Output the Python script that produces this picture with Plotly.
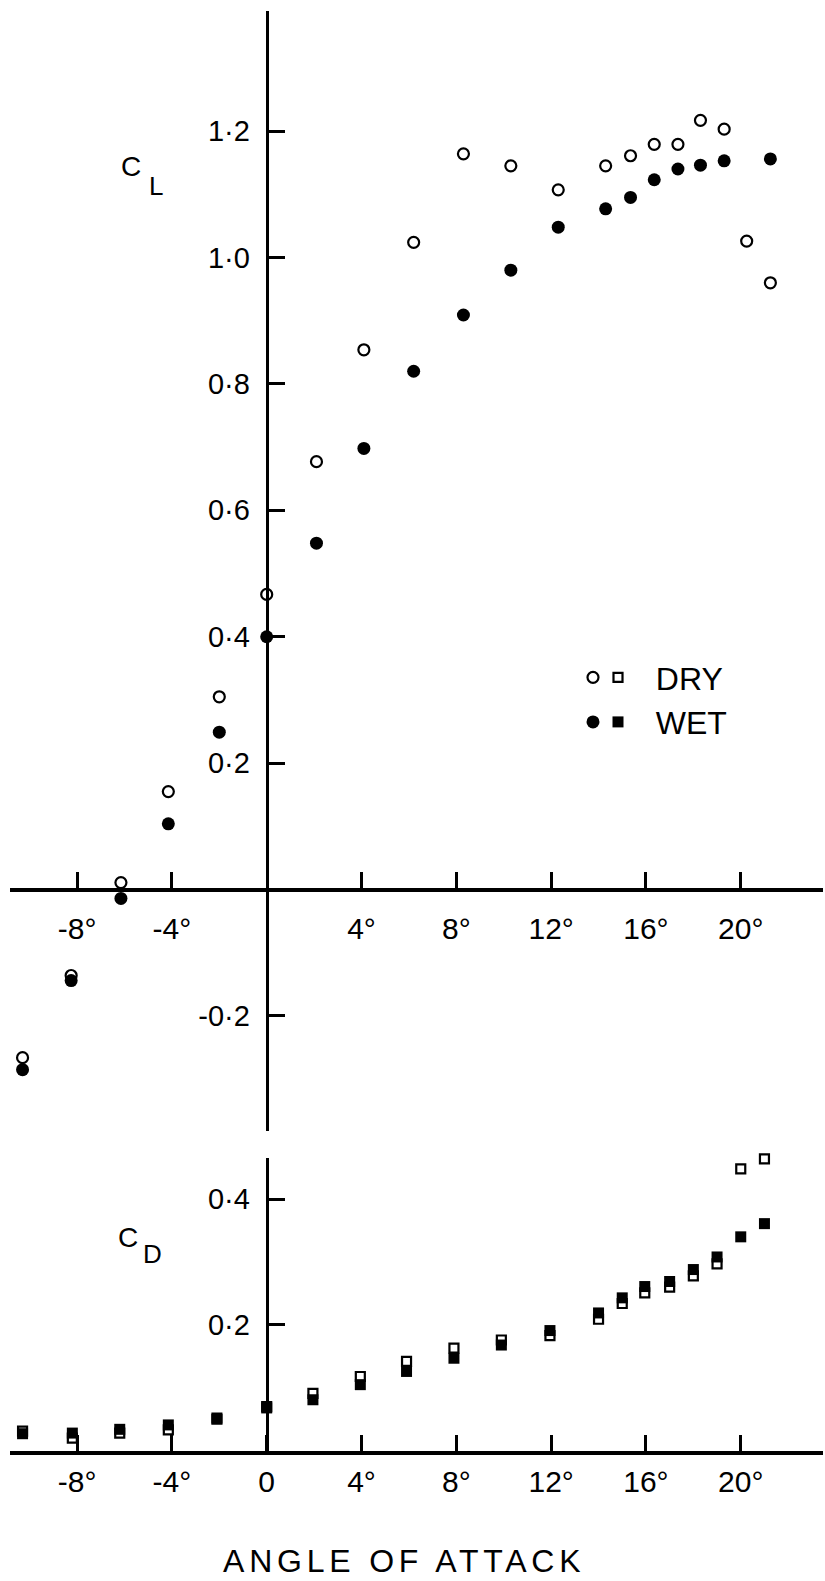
import plotly.graph_objects as go

# ---------------- data ----------------
angle_cl = [-10.3, -8.25, -6.15, -4.15, -2.0, 0.0, 2.1, 4.1, 6.2, 8.3, 10.3, 12.3,
            14.3, 15.35, 16.35, 17.35, 18.3, 19.3, 20.25, 21.25]
cl_dry = [-0.266, -0.136, 0.011, 0.155, 0.305, 0.467, 0.677, 0.854, 1.024, 1.164, 1.145, 1.107,
          1.145, 1.161, 1.179, 1.179, 1.217, 1.203, 1.026, 0.960]
cl_wet = [-0.285, -0.144, -0.014, 0.104, 0.249, 0.400, 0.548, 0.698, 0.820, 0.909, 0.980, 1.048,
          1.077, 1.095, 1.123, 1.140, 1.146, 1.153, None, 1.156]

angle_cd = [-10.3, -8.2, -6.2, -4.15, -2.1, 0.0, 1.95, 3.95, 5.9, 7.9, 9.9, 11.95,
            14.0, 15.0, 15.95, 17.0, 18.0, 19.0, 20.0, 21.0]
cd_dry = [0.031, 0.020, 0.028, 0.033, 0.050, 0.070, 0.091, 0.118, 0.142, 0.163, 0.176, 0.183,
          0.209, 0.234, 0.251, 0.260, 0.278, 0.297, 0.448, 0.464]
cd_wet = [0.027, 0.028, 0.034, 0.041, 0.052, 0.068, 0.081, 0.105, 0.126, 0.147, 0.168, 0.191,
          0.219, 0.243, 0.261, 0.269, 0.288, 0.308, 0.340, 0.361]

x_tickvals_top = [-8, -4, 4, 8, 12, 16, 20]
x_ticktext_top = ["-8°", "-4°", "4°", "8°", "12°", "16°", "20°"]
x_tickvals_bot = [-8, -4, 0, 4, 8, 12, 16, 20]
x_ticktext_bot = ["-8°", "-4°", "0", "4°", "8°", "12°", "16°", "20°"]
cl_tickvals = [-0.2, 0.2, 0.4, 0.6, 0.8, 1.0, 1.2]
cl_ticktext = ["-0·2", "0·2", "0·4", "0·6", "0·8", "1·0", "1·2"]
cd_tickvals = [0.2, 0.4]
cd_ticktext = ["0·2", "0·4"]

# ---------------- layout geometry ----------------
W, H = 825, 1581
ML, MR = 10, 2
PW = W - ML - MR
X_RANGE = [-10.83, 23.47]
CL_RANGE = [-0.382, 1.390]
CD_RANGE = [0.0, 0.466]
CD_BOTTOM_PX = 1450.7
CD_SCALE = 629.0                     # px per unit of C_D
CL_DOMAIN = [1 - 1131 / H, 1 - 11 / H]
CD_DOMAIN = [1 - CD_BOTTOM_PX / H, 1 - (CD_BOTTOM_PX - CD_RANGE[1] * CD_SCALE) / H]

def frac(v, rng, dom):
    return dom[0] + (v - rng[0]) / (rng[1] - rng[0]) * (dom[1] - dom[0])

def px_x(px):
    return (px - ML) / PW

def px_y(py):
    return 1 - py / H

yaxis_pos = frac(0, X_RANGE, [0, 1])
xaxis_top_pos = frac(0, CL_RANGE, CL_DOMAIN)

FONT = "Liberation Sans, Arial, sans-serif"

fig = go.Figure()

dry_circle = dict(symbol="circle", size=11, color="white", line=dict(color="black", width=2.2))
wet_circle = dict(symbol="circle", size=13, color="black", line=dict(width=0))
dry_square = dict(symbol="square", size=9, color="white", line=dict(color="black", width=2.2))
wet_square = dict(symbol="square", size=11, color="black", line=dict(width=0))

fig.add_trace(go.Scatter(x=angle_cl, y=cl_dry, mode="markers", marker=dry_circle, cliponaxis=False,
                         xaxis="x", yaxis="y", name=" ", legend="legend"))
fig.add_trace(go.Scatter(x=angle_cl, y=cl_wet, mode="markers", marker=wet_circle, cliponaxis=False,
                         xaxis="x", yaxis="y", name=" ", legend="legend"))
fig.add_trace(go.Scatter(x=angle_cd, y=cd_dry, mode="markers", marker=dry_square, cliponaxis=False,
                         xaxis="x2", yaxis="y2", name="\u00a0\u00a0DRY", legend="legend2"))
fig.add_trace(go.Scatter(x=angle_cd, y=cd_wet, mode="markers", marker=wet_square, cliponaxis=False,
                         xaxis="x2", yaxis="y2", name="\u00a0\u00a0WET", legend="legend2"))

common_axis = dict(showgrid=False, zeroline=False, showline=True, linecolor="black",
                   ticks="inside", tickcolor="black", tickwidth=2.5, ticklen=16,
                   fixedrange=True)

fig.update_layout(
    width=W, height=H,
    margin=dict(l=ML, r=MR, t=0, b=0),
    paper_bgcolor="white", plot_bgcolor="white",
    font=dict(family=FONT, color="black"),
    xaxis=dict(common_axis, domain=[0, 1], range=X_RANGE, anchor="free", position=xaxis_top_pos,
               linewidth=3.5, tickmode="array", tickvals=x_tickvals_top, ticktext=x_ticktext_top,
               tickfont=dict(size=30), ticklabelstandoff=12),
    yaxis=dict(common_axis, domain=CL_DOMAIN, range=CL_RANGE, anchor="free", position=yaxis_pos,
               linewidth=3, tickmode="array", tickvals=cl_tickvals, ticktext=cl_ticktext,
               tickfont=dict(size=29), ticklabelstandoff=10),
    xaxis2=dict(common_axis, domain=[0, 1], range=X_RANGE, anchor="y2", side="bottom",
                linewidth=3.5, tickmode="array", tickvals=x_tickvals_bot, ticktext=x_ticktext_bot,
                tickfont=dict(size=30), ticklabelstandoff=2),
    yaxis2=dict(common_axis, domain=CD_DOMAIN, range=CD_RANGE, anchor="free", position=yaxis_pos,
                linewidth=3, tickmode="array", tickvals=cd_tickvals, ticktext=cd_ticktext,
                tickfont=dict(size=29), ticklabelstandoff=10),
    legend=dict(x=px_x(573), y=px_y(650), xanchor="left", yanchor="top",
                bgcolor="rgba(0,0,0,0)", font=dict(size=32, family=FONT, color="black"),
                tracegroupgap=0, itemclick=False, itemdoubleclick=False),
    legend2=dict(x=px_x(598), y=px_y(650), xanchor="left", yanchor="top",
                 bgcolor="rgba(0,0,0,0)", font=dict(size=32, family=FONT, color="black"),
                 tracegroupgap=0, itemclick=False, itemdoubleclick=False),
    showlegend=True,
)

annotations = [
    dict(text="C", x=px_x(131), y=px_y(167), font=dict(size=28)),
    dict(text="L", x=px_x(155.5), y=px_y(186), font=dict(size=26)),
    dict(text="C", x=px_x(128), y=px_y(1237), font=dict(size=28)),
    dict(text="D", x=px_x(152), y=px_y(1254), font=dict(size=26)),
    dict(text="<span style='letter-spacing:4.8px'>ANGLE OF ATTACK</span>",
         x=px_x(404), y=px_y(1561), font=dict(size=32)),
]
for a in annotations:
    a.update(xref="paper", yref="paper", showarrow=False, xanchor="center", yanchor="middle")
    a["font"].update(family=FONT, color="black")
fig.update_layout(annotations=annotations)

fig.write_html("out.html")
